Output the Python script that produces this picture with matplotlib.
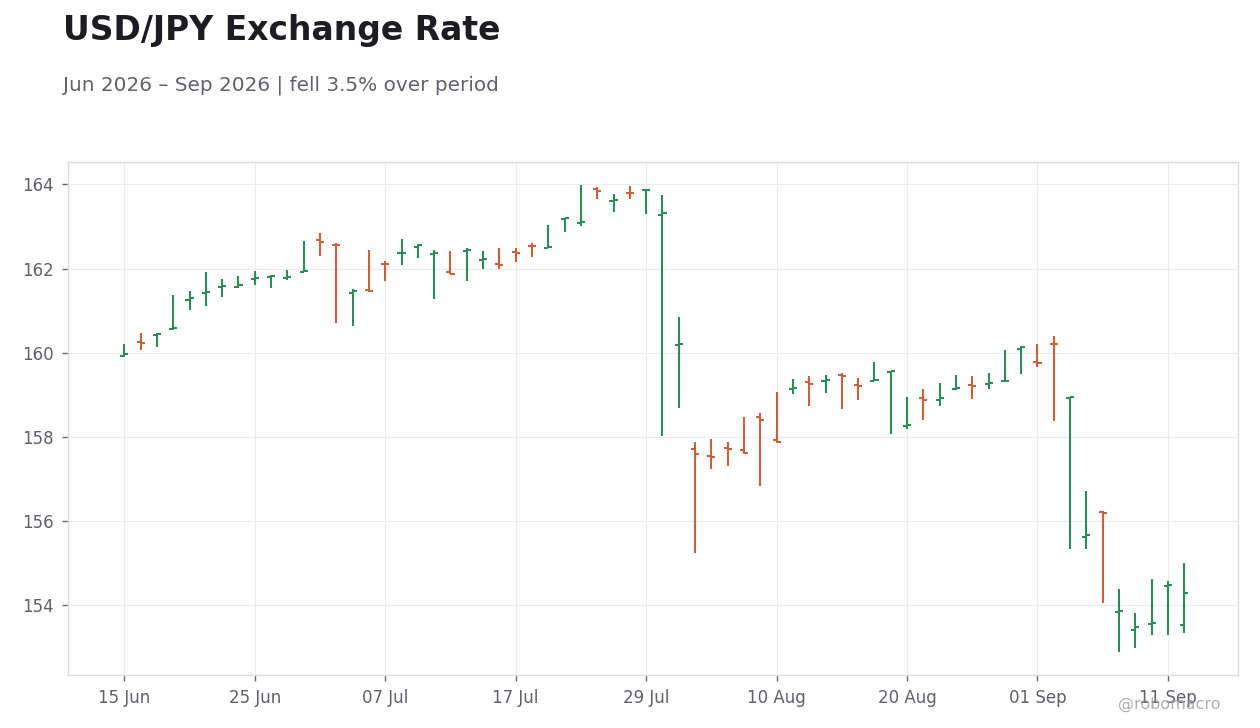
import matplotlib
matplotlib.use("Agg")
import matplotlib.pyplot as plt
import numpy as np
import pandas as pd

plt.rcParams["font.family"] = ["DejaVu Sans"]

# business days from 15 Jun 2026
dates = pd.bdate_range("2026-06-15", periods=66)

opens = [159.92, 160.26, 160.42, 160.56, 161.25, 161.43, 161.56, 161.56, 161.76, 161.80,
         161.78, 161.93, 162.68, 162.57, 161.41, 161.49, 162.11, 162.36, 162.52, 162.34,
         161.91, 162.42, 162.20, 162.11, 162.40, 162.54, 162.48, 163.18, 163.08, 163.90,
         163.61, 163.80, 163.86, 163.28, 160.18, 157.71, 157.55, 157.75, 157.68, 158.47,
         157.92, 159.15, 159.30, 159.32, 159.47, 159.24, 159.34, 159.54, 158.27, 158.92,
         158.87, 159.15, 159.24, 159.25, 159.32, 160.10, 159.79, 160.22, 158.92, 155.63,
         156.21, 153.84, 153.42, 153.56, 154.47, 153.54]
highs = [160.22, 160.46, 160.46, 161.37, 161.46, 161.91, 161.75, 161.82, 161.94, 161.84,
         161.96, 162.65, 162.84, 162.60, 161.51, 162.44, 162.17, 162.70, 162.59, 162.44,
         162.41, 162.48, 162.41, 162.48, 162.48, 162.60, 163.03, 163.21, 163.98, 163.93,
         163.77, 163.96, 163.88, 163.75, 160.84, 157.87, 157.96, 157.87, 158.48, 158.56,
         159.06, 159.39, 159.46, 159.48, 159.51, 159.41, 159.79, 159.57, 158.96, 159.13,
         159.29, 159.48, 159.44, 159.51, 160.06, 160.16, 160.20, 160.40, 158.95, 156.72,
         156.24, 154.39, 153.82, 154.63, 154.58, 155.01]
lows = [159.90, 160.06, 160.13, 160.55, 161.02, 161.11, 161.33, 161.54, 161.61, 161.54,
        161.73, 161.92, 162.30, 160.71, 160.63, 161.45, 161.70, 162.08, 162.25, 161.29,
        161.88, 161.71, 161.99, 161.99, 162.16, 162.28, 162.48, 162.87, 163.02, 163.66,
        163.35, 163.66, 163.30, 158.02, 158.68, 155.25, 157.23, 157.30, 157.59, 156.84,
        157.86, 159.02, 158.73, 159.04, 158.66, 158.87, 159.34, 158.06, 158.18, 158.40,
        158.73, 159.12, 158.90, 159.13, 159.31, 159.49, 159.66, 158.37, 155.35, 155.33,
        154.06, 152.90, 152.99, 153.30, 153.30, 153.35]
closes = [159.97, 160.24, 160.45, 160.60, 161.30, 161.45, 161.58, 161.60, 161.77, 161.83,
          161.80, 161.95, 162.63, 162.55, 161.46, 161.46, 162.10, 162.38, 162.56, 162.37,
          161.88, 162.44, 162.22, 162.09, 162.38, 162.53, 162.52, 163.20, 163.11, 163.85,
          163.63, 163.79, 163.87, 163.33, 160.20, 157.59, 157.53, 157.71, 157.61, 158.41,
          157.89, 159.16, 159.27, 159.35, 159.44, 159.22, 159.36, 159.56, 158.29, 158.89,
          158.92, 159.16, 159.22, 159.29, 159.33, 160.13, 159.75, 160.20, 158.94, 155.67,
          156.20, 153.86, 153.49, 153.59, 154.49, 154.30]

UP = "#2e8b57"
DOWN = "#c9603e"

o = np.array(opens)
h = np.array(highs)
l = np.array(lows)
c = np.array(closes)
x = np.arange(len(o))
cols = [UP if cc >= oo else DOWN for oo, cc in zip(o, c)]

fig = plt.figure(figsize=(12.6, 7.28), dpi=100)
ax = fig.add_axes([0.054, 0.0728, 0.9286, 0.7047])

tw = 0.25
ax.vlines(x, l, h, colors=cols, lw=1.5, zorder=3)
ax.hlines(o, x - tw, x, colors=cols, lw=1.5, zorder=3)
ax.hlines(c, x, x + tw, colors=cols, lw=1.5, zorder=3)

ax.set_xlim(-3.45, 68.3)
ax.margins(y=0.05)
ax.set_yticks([154, 156, 158, 160, 162, 164])
ticks = x[::8]
ax.set_xticks(ticks)
ax.set_xticklabels([dates[i].strftime("%d %b") for i in ticks])

ax.grid(True, color="#ececec", lw=0.8, zorder=0)
ax.set_axisbelow(True)
for s in ax.spines.values():
    s.set_color("#dcdcdc")
    s.set_linewidth(1.0)
ax.tick_params(colors="#5f6068", labelsize=12, length=4, width=1, color="#6a6a70", pad=6)

chg = (c[-1] / c[0] - 1) * 100
word = "fell" if chg < 0 else "rose"
fig.text(0.05, 0.958, "USD/JPY Exchange Rate", fontsize=23.8, fontweight="bold",
         color="#1c1c22", va="center")
fig.text(0.05, 0.883, f"Jun 2026 \u2013 Sep 2026 | {word} {abs(chg):.1f}% over period",
         fontsize=14.4, color="#60616a", va="center")
fig.text(0.969, 0.032, "@robomacro", fontsize=11.5, color="#9a9aa0", alpha=0.8,
         ha="right", va="center")

fig.savefig("out.png", dpi=100, facecolor="white")
